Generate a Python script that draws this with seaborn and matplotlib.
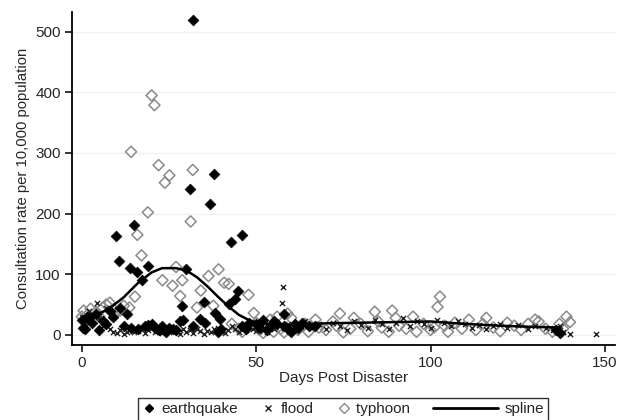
import matplotlib
matplotlib.use("Agg")
import matplotlib.pyplot as plt
import seaborn as sns
import pandas as pd
from matplotlib.lines import Line2D
from matplotlib.legend_handler import HandlerLine2D

# earthquake points (days, rate)
eq_day = [0, 0.3, 1, 1.5, 2, 3, 4, 5, 6, 7, 8, 9, 9.8, 10.6, 11, 12, 13, 13.8, 15, 15.7,
          17.2, 18.9, 14, 16, 18, 19, 20, 21, 22, 23, 24, 25, 26, 27, 28, 28.6, 29, 29.8,
          31, 31.8, 32, 33.9, 34.9, 35.3, 36.8, 38, 38.2, 39, 39.7, 40, 42.1, 42.7, 43.8,
          44.7, 45.9, 46, 47, 48, 50, 51, 52, 53, 54, 55, 56, 57.9, 58, 59, 60, 61, 62,
          63, 65, 67, 136, 137]
eq_rate = [25, 11, 10, 30, 28, 20, 35, 8, 22, 18, 40, 30, 163, 121, 45, 15, 34, 111, 181, 104,
           90, 114, 12, 10, 14, 16, 18, 12, 8, 15, 5, 12, 10, 8, 22, 48, 25, 108,
           240, 519, 15, 26, 54, 20, 216, 266, 36, 5, 26, 10, 51, 153, 59,
           73, 164, 15, 10, 20, 18, 12, 25, 8, 15, 22, 18, 34, 14, 10, 5, 18, 12,
           20, 15, 14, 8, 3]

# flood points
fl_day = [0, 1, 2, 3, 4.2, 5, 6, 7, 8, 9, 10, 11, 12, 13, 14, 15, 16, 17, 18, 19, 20, 21,
          22, 23, 24, 25, 26, 27, 28, 29, 30, 31, 32, 33, 34, 35, 36, 37, 38, 39, 40, 41,
          42, 43, 44, 45, 46, 47, 48, 49, 50, 51, 52, 53, 54, 55, 56, 57.4, 57.8, 58, 59,
          60, 62, 64, 66, 68, 70, 72, 74, 76, 78, 80, 82, 84, 86, 88, 90, 92, 94, 96, 98,
          100, 102, 104, 106, 108, 110, 112, 114, 116, 118, 120, 122, 125, 128, 130, 133,
          135, 137, 138, 140, 147.4]
fl_rate = [30, 20, 40, 35, 52, 28, 15, 45, 10, 5, 3, 8, 2, 5, 12, 4, 7, 10, 3, 8, 12, 5,
           9, 3, 7, 11, 4, 6, 2, 9, 5, 8, 3, 10, 6, 2, 7, 4, 9, 12, 6, 3,
           8, 14, 10, 5, 12, 8, 15, 10, 6, 12, 9, 4, 14, 10, 20, 52, 79, 12, 18,
           8, 15, 22, 12, 18, 10, 20, 14, 8, 22, 16, 12, 25, 18, 10, 20, 28, 14, 22, 18,
           12, 25, 20, 15, 22, 18, 12, 16, 10, 14, 18, 12, 16, 10, 14, 12,
           8, 15, 5, 2, 1]

# typhoon points
ty_day = [0, 0.5, 1.6, 2.5, 4, 5, 6, 7, 8, 9, 10, 11, 12, 13.6, 14.1, 15.2, 15.9, 17.1,
          18.9, 20, 20.8, 22, 23.1, 23.8, 25.1, 26, 27, 28.2, 28.8, 31.2, 31.8, 33, 34.1,
          36.3, 37.7, 39.2, 40.8, 42.1, 43, 45, 46, 47.8, 49.3, 50, 51, 52, 53, 54, 55, 56,
          57, 58, 59, 60, 61, 62, 64, 65, 67, 68, 70, 72, 73, 74, 75, 77, 78, 80, 82, 84,
          85, 86, 88, 89, 90, 91, 93, 95, 96, 98, 100, 101, 102, 102.7, 104, 105, 107, 109,
          111, 113, 115, 116, 118, 120, 122, 124, 126, 128, 130, 131, 133, 135, 137, 138,
          139, 140]
ty_rate = [30, 40, 33, 43, 38, 30, 45, 50, 53, 42, 38, 40, 48, 45, 302, 63, 165, 131,
           202, 395, 379, 280, 90, 251, 263, 81, 112, 64, 90, 187, 272, 45, 73,
           97, 48, 108, 86, 84, 18, 10, 5, 66, 36, 20, 8, 3, 12, 25, 5, 30,
           10, 4, 35, 28, 12, 8, 18, 5, 25, 12, 8, 22, 15, 35, 4, 10, 28, 18, 6, 38,
           22, 12, 5, 40, 28, 15, 10, 30, 5, 18, 8, 12, 46, 63, 15, 5, 20, 10,
           25, 8, 18, 28, 12, 6, 20, 15, 8, 18, 25, 22, 10, 5, 18, 10,
           30, 21]

# fitted spline
spline_day = [1, 4, 8, 12, 16, 20, 23, 27, 30, 33, 36, 39, 42, 45, 48, 51, 55, 60, 70,
              80, 90, 100, 105, 110, 120, 130, 137]
spline_rate = [28, 32, 44, 62, 85, 103, 110, 110, 106, 95, 80, 63, 47, 33, 24, 19, 17, 16,
               19, 20, 21, 22, 20, 18, 15, 13, 12]


# long legend line for the spline, drawn to the left of its own handle box
class LongLine(HandlerLine2D):
    def create_artists(self, legend, orig_handle, xdescent, ydescent, width, height, fontsize, trans):
        return super().create_artists(legend, orig_handle, xdescent + 4.3 * width, ydescent,
                                      5.3 * width, height, fontsize, trans)


sns.set_style("white")
plt.rcParams['font.family'] = ['Liberation Sans', 'DejaVu Sans']

fig = plt.figure(figsize=(6.19, 4.2), dpi=100)
ax = fig.add_axes([0.116, 0.179, 0.878, 0.793])

df_ty = pd.DataFrame({"day": ty_day, "rate": ty_rate})
df_eq = pd.DataFrame({"day": eq_day, "rate": eq_rate})
df_fl = pd.DataFrame({"day": fl_day, "rate": fl_rate})

sns.scatterplot(data=df_ty, x="day", y="rate", marker="D", s=32, facecolor="none",
                edgecolor="#8a8a8a", linewidth=1.1, ax=ax, zorder=3)
sns.scatterplot(data=df_fl, x="day", y="rate", marker="x", s=14, color="#222222",
                linewidth=1.0, ax=ax, zorder=3)
sns.scatterplot(data=df_eq, x="day", y="rate", marker="D", s=30, color="black",
                edgecolor="black", linewidth=0.5, ax=ax, zorder=4)
sns.lineplot(x=spline_day, y=spline_rate, color="black", linewidth=1.8, ax=ax,
             sort=False, zorder=5)

ax.set_xlim(-2.9, 153)
ax.set_ylim(-16.5, 533)
ax.set_xticks([0, 50, 100, 150])
ax.set_yticks([0, 100, 200, 300, 400, 500])
ax.yaxis.grid(True, color="#eef1f1", linewidth=1)
ax.set_axisbelow(True)
for s in ["top", "right"]:
    ax.spines[s].set_visible(False)
for s in ["left", "bottom"]:
    ax.spines[s].set_color("black")
    ax.spines[s].set_linewidth(1.3)
ax.tick_params(axis="both", direction="out", length=5, width=1.1, color="black",
               labelsize=11, left=True, bottom=True, pad=3)
ax.set_xlabel("Days Post Disaster", fontsize=11, labelpad=1)
ax.set_ylabel("Consultation rate per 10,000 population", fontsize=10.7, labelpad=4)

handles = [
    Line2D([], [], marker="D", linestyle="none", color="black", markersize=4.5),
    Line2D([], [], marker="x", linestyle="none", color="#222222", markersize=4, markeredgewidth=1),
    Line2D([], [], marker="D", linestyle="none", markerfacecolor="none",
           markeredgecolor="#8a8a8a", markersize=5.5),
    Line2D([], [], color="black", linewidth=2),
]
labels = ["earthquake", "flood", "typhoon" + " " * 12, "spline"]
leg = ax.legend(handles, labels, loc="upper center", bbox_to_anchor=(0.4995, -0.159),
                ncol=4, frameon=True, fancybox=False, edgecolor="black", fontsize=11,
                handlelength=0.8, handletextpad=0.4, columnspacing=1.6,
                borderpad=0.3, borderaxespad=0, handler_map={handles[3]: LongLine()})
leg.get_frame().set_linewidth(1.0)

fig.savefig("out.png", dpi=100)
